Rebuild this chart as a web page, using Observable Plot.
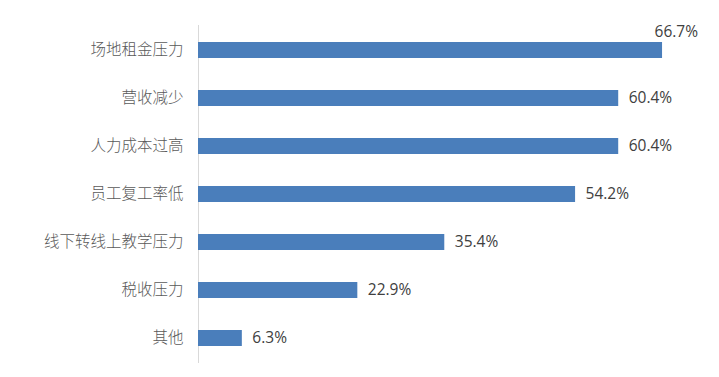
<!DOCTYPE html>
<html>
<head>
<meta charset="utf-8">
<script src="https://cdn.jsdelivr.net/npm/d3@7"></script>
<script src="https://cdn.jsdelivr.net/npm/@observablehq/plot@0.6"></script>
<style>
  html, body { margin: 0; padding: 0; background: #fff; }
  #chart { width: 719px; height: 377px; }
</style>
</head>
<body>
<div id="chart"></div>
<script>
const categories = ["场地租金压力", "营收减少", "人力成本过高", "员工复工率低", "线下转线上教学压力", "税收压力", "其他"];
const values = [66.7, 60.4, 60.4, 54.2, 35.4, 22.9, 6.3];

const data = categories.map((c, i) => ({ category: c, value: values[i] }));
const maxVal = d3.max(values);
const topRows = data.filter(d => d.value === maxVal);
const restRows = data.filter(d => d.value !== maxVal);
const fmt = d => d.toFixed(1) + "%";

const chart = Plot.plot({
  width: 719,
  height: 377,
  marginLeft: 198,
  marginRight: 34,
  marginTop: 25,
  marginBottom: 14,
  style: { fontFamily: "'Noto Sans CJK SC', 'Noto Sans', sans-serif", background: "#fff" },
  x: { domain: [0, 70], axis: null },
  y: { domain: categories, paddingInner: 0.67, paddingOuter: 0.335, label: null },
  marks: [
    Plot.ruleX([0], { stroke: "#d9d9d9", strokeWidth: 1 }),
    Plot.barX(data, { x: "value", y: "category", fill: "#4a7ebb" }),
    Plot.axisY({ tickSize: 0, tickPadding: 15, fontSize: 15.5, color: "#595959", fontWeight: 300, label: null }),
    Plot.text(restRows, { x: "value", y: "category", text: d => fmt(d.value), textAnchor: "start", dx: 10, fontSize: 15.5, fill: "#404040", fontFamily: "'Open Sans', sans-serif" }),
    Plot.text(topRows, { x: "value", y: "category", text: d => fmt(d.value), textAnchor: "start", dx: -8, dy: -18, fontSize: 15.5, fill: "#404040", fontFamily: "'Open Sans', sans-serif" })
  ]
});
document.getElementById("chart").appendChild(chart);
</script>
</body>
</html>
